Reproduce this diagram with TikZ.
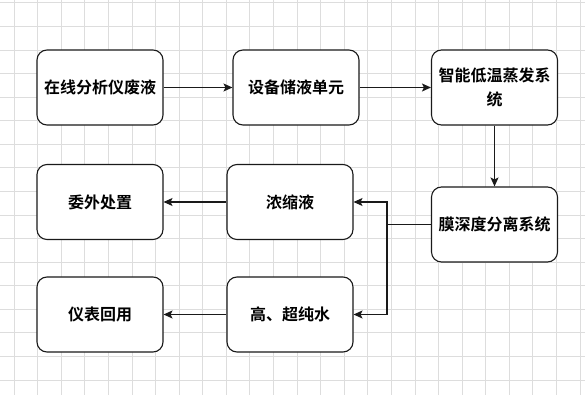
\documentclass[tikz,border=0pt]{standalone}
\usepackage{fontspec}
\setmainfont{Noto Sans CJK SC}[BoldFont={Noto Sans CJK SC Bold}]
\usetikzlibrary{arrows.meta}
\definecolor{gridc}{HTML}{DDDDDD}
\definecolor{linec}{HTML}{1A1A1A}
\tikzset{
  proc/.style={draw=linec, line width=1.1pt, rounded corners=10pt, fill=white,
    minimum width=126pt, minimum height=75pt, inner sep=0pt,
    align=center, font=\fontsize{16pt}{24pt}\selectfont\bfseries},
  conn/.style={draw=linec, line width=1.1pt, -{Stealth[length=9pt,width=8pt,inset=2pt]}},
  plain/.style={draw=linec, line width=1.1pt}
}
\begin{document}
\begin{tikzpicture}[x=1pt,y=-1pt]
\useasboundingbox (0,0) rectangle (585,395);
\fill[white] (0,0) rectangle (585,395);
\foreach \k in {0,...,24} \draw[gridc, line width=0.7pt] ({14+23.58*\k},0) -- ({14+23.58*\k},395);
\foreach \k in {0,...,16} \draw[gridc, line width=0.7pt] (0,{2.7+23.58*\k}) -- (585,{2.7+23.58*\k});
\node[proc] (a) at (100,87.5) {在线分析仪废液};
\node[proc] (b) at (296,87.5) {设备储液单元};
\node[proc] (c) at (494.5,87.5) {智能低温蒸发系\\统};
\node[proc] (d) at (494.5,224.5) {膜深度分离系统};
\node[proc] (e) at (290,202) {浓缩液};
\node[proc] (f) at (290,314.5) {高、超纯水};
\node[proc] (g) at (100,202) {委外处置};
\node[proc] (h) at (100,314.5) {仪表回用};
\coordinate (j) at (387,224.5);
\draw[conn] (a) -- (b);
\draw[conn] (b) -- (c);
\draw[conn] (c) -- (d);
\draw[plain] (d.west) -- (j);
\draw[conn] (j) |- (e.east);
\draw[conn] (j) |- (f.east);
\draw[conn] (e) -- (g);
\draw[conn] (f) -- (h);
\end{tikzpicture}
\end{document}
